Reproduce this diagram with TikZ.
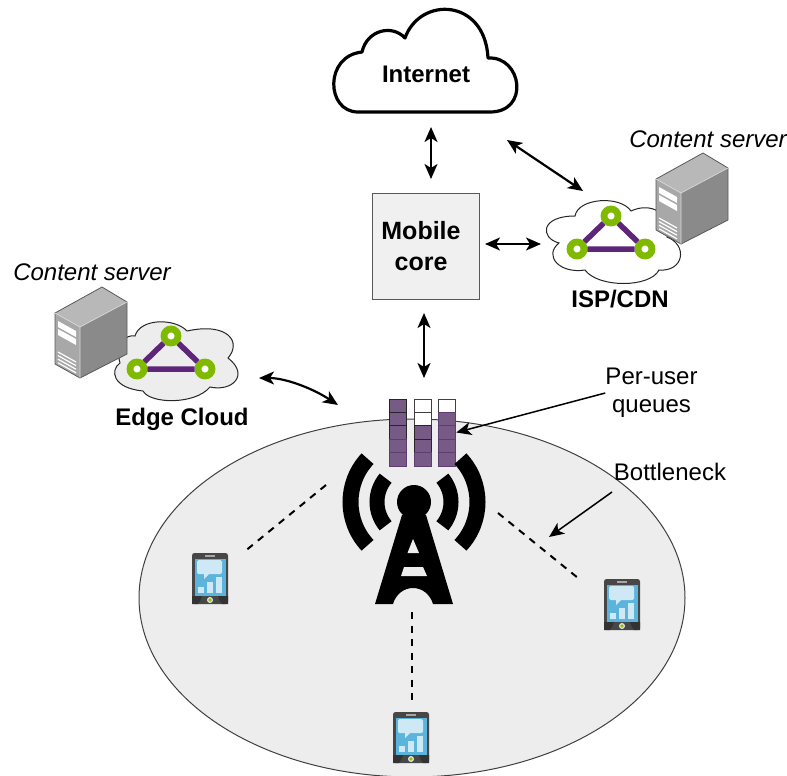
\documentclass[tikz,border=0pt]{standalone}
\usepackage{fontspec}
\setmainfont{Liberation Sans}
\usetikzlibrary{arrows.meta}
\definecolor{bgg}{HTML}{EDEDED}
\definecolor{ringg}{HTML}{7FBA00}
\definecolor{triv}{HTML}{5F2578}
\definecolor{qfill}{HTML}{775A85}
\definecolor{qedge}{HTML}{5C3F70}
\definecolor{scrblue}{HTML}{5AB4DC}
\definecolor{scrlight}{HTML}{CFE8F5}
\tikzset{
  x=1pt,y=-1pt,
  lab/.style={font=\fontsize{24}{28}\selectfont,align=center,inner sep=0pt},
  blab/.style={lab,font=\fontsize{24}{31}\selectfont\bfseries},
  ilab/.style={lab,font=\fontsize{24}{28}\selectfont\itshape},
  dbl/.style={line width=2.2pt,{Stealth[length=15pt,width=13pt,inset=4pt]}-{Stealth[length=15pt,width=13pt,inset=4pt]}},
  one/.style={line width=1.5pt,-{Stealth[length=15pt,width=13pt,inset=4pt]}},
  dsh/.style={line width=2pt,dash pattern=on 7pt off 6.5pt},
  ring/.style={circle,draw=ringg,line width=6.8pt,fill=white,minimum size=14pt,inner sep=0pt},
  qcell/.style={rectangle,minimum width=17.5pt,minimum height=13.4pt,inner sep=0pt,line width=1pt},
  qfull/.style={qcell,fill=qfill,draw=qedge},
  qtop/.style={qcell,fill=qfill,draw=black!85},
  qempty/.style={qcell,fill=white,draw=black!75},
  smallcl/.style={line width=1pt,draw=black!85},
  triad/.pic={
    \node[ring] (-a) at (577,249) {};
    \node[ring] (-b) at (611,216) {};
    \node[ring] (-c) at (645,249) {};
    \draw[triv,line width=5.5pt] (-a) -- (-b) (-b) -- (-c) (-c) -- (-a);
  },
  serverpic/.pic={
    \fill[white!72!black] (656,179) -- (703,153) -- (728,168) -- (681,193) -- cycle;
    \fill[white!54!black] (681,193) -- (728,168) -- (728,220) -- (681,244) -- cycle;
    \fill[white!66!black] (656,179) -- (681,193) -- (681,244) -- (656,230) -- cycle;
    \draw[black!65,line width=.8pt,line join=round] (656,179) -- (703,153) -- (728,168) -- (728,220) -- (681,244) -- (656,230) -- cycle;
    \draw[white!85!black,line width=.7pt] (656,179) -- (681,193) -- (728,168) (681,193) -- (681,244);
    \fill[white] (659,187) -- (677,197) -- (677,203) -- (659,193) -- cycle;
    \fill[white] (659,195) -- (677,205) -- (677,211) -- (659,201) -- cycle;
    \foreach \d in {0,3.6,7.2,10.8}{
      \draw[white,line width=1.2pt] (659,218+\d) -- (677,228+\d);
    }
  },
  phonepic/.pic={
    \fill[black!72,rounded corners=2.5pt] (393,712) rectangle (429,763);
    \fill[black!80] (393,755) -- (403,755) .. controls (402,758) and (401,761) .. (399,763) -- (393,763) -- cycle;
    \fill[black!80] (429,755) -- (419,755) .. controls (420,758) and (421,761) .. (423,763) -- (429,763) -- cycle;
    \fill[black!35] (406,714) rectangle (416,716);
    \fill[scrblue] (396,718) rectangle (427,755);
    \fill[scrlight,rounded corners=1.5pt] (398,719) rectangle (423,733);
    \fill[scrlight] (405,732) -- (405,738) -- (411,732) -- cycle;
    \fill[scrlight] (399,746) rectangle (405,752);
    \fill[scrlight] (408,741) rectangle (414,752);
    \fill[scrlight] (417,736) rectangle (423,752);
    \fill[white!90!black] (411,759) circle (3pt);
    \fill[ringg!85!yellow] (411,759) circle (1.8pt);
  },
}
\begin{document}
\begin{tikzpicture}
\useasboundingbox (0,0) rectangle (787,776);
% coverage ellipse
\begin{scope}
\clip (0,0) rectangle (787,776);
\draw[fill=bgg,draw=black!75,line width=1pt] (412,598) ellipse [x radius=273,y radius=179];
\end{scope}
% Internet cloud
\draw[fill=white,draw=black,line width=3.2pt,line join=round]
  (358,112) .. controls (326,112) and (324,56) .. (362,52)
  .. controls (367,30) and (392,24) .. (405,38)
  .. controls (420,-4) and (485,-2) .. (488,58)
  .. controls (522,56) and (530,112) .. (490,112) -- cycle;
\node[blab] (internet) at (426,74) {Internet};
% core
\node[rectangle,draw=black!65,fill=black!6,line width=1pt,minimum width=107pt,minimum height=106pt] (core) at (425.5,246) {};
\node[blab,font=\fontsize{25}{31}\selectfont\bfseries] (corelabel) at (421,246) {Mobile\\core};
% ISP group
\draw[smallcl,fill=white]
  (559,243) .. controls (540,238) and (540,216) .. (575,216)
  .. controls (578,198) and (620,195) .. (631,211)
  .. controls (650,202) and (672,212) .. (667,237)
  .. controls (688,245) and (684,272) .. (659,270)
  .. controls (650,288) and (598,288) .. (585,270)
  .. controls (560,274) and (543,256) .. (559,243) -- cycle;
\pic (isp) at (0,0) {triad};
\pic at (0,0) {serverpic};
\node[ilab] (cs1) at (708,139) {Content server};
\node[blab] (ispl) at (620,299) {ISP/CDN};
% Edge group
\draw[smallcl,fill=bgg]
  (120,363) .. controls (110,370) and (112,388) .. (143,391)
  .. controls (150,404) and (195,405) .. (210,387)
  .. controls (232,392) and (250,375) .. (228,358)
  .. controls (242,342) and (228,322) .. (187,331)
  .. controls (175,318) and (140,318) .. (135,336)
  .. controls (125,334) and (115,345) .. (120,363) -- cycle;
\pic (edge) at (-440,120) {triad};
\pic at (-601,134) {serverpic};
\node[ilab] (cs2) at (92,272) {Content server};
\node[blab] (edgel) at (182,419) {Edge Cloud};
% queues
\foreach \c/\x in {1/398,2/423,3/447}{
  \foreach \r in {1,...,5}{
    \pgfmathsetmacro{\yy}{399+13.4*(\r-.5)}
    \ifnum\c=1 \ifnum\r<4 \def\st{qtop}\else\def\st{qfull}\fi\fi
    \ifnum\c=2 \ifnum\r<3 \def\st{qempty}\else\ifnum\r<5 \def\st{qtop}\else\def\st{qfull}\fi\fi\fi
    \ifnum\c=3 \ifnum\r<2 \def\st{qempty}\else\def\st{qfull}\fi\fi
    \node[\st] (q\c\r) at (\x,\yy) {};
  }
}
% tower
\fill[black] (414,502) circle (17);
\draw[black,line width=16pt] (414,502) ++(137:63.5) arc [start angle=137,end angle=223,radius=63.5];
\draw[black,line width=16pt] (414,502) ++(43:63.5) arc [start angle=43,end angle=-43,radius=63.5];
\draw[black,line width=15pt] (414,502) ++(140:37) arc [start angle=140,end angle=220,radius=37];
\draw[black,line width=15pt] (414,502) ++(40:37) arc [start angle=40,end angle=-40,radius=37];
\fill[black] (402,515) -- (375,604) -- (393,604) .. controls (396,594) and (404,588) .. (413,588)
  .. controls (422,588) and (430,594) .. (433,604) -- (453,604) -- (426,515) -- cycle;
\fill[bgg] (413,539) -- (407.5,553) -- (419,553) -- cycle;
\fill[bgg] (404,567) -- (423,567) -- (427,576) -- (401,576) -- cycle;
% phones
\pic at (-201,-159) {phonepic};
\pic at (211,-133) {phonepic};
\pic at (0,0) {phonepic};
% labels
\node[lab] (puq) at (651.5,393) {Per-user\\queues};
\node[lab] (bott) at (670,472) {Bottleneck};
% connector ends
\coordinate (inetS) at (431,127);
\coordinate (coreN) at (431,179);
\coordinate (inetE) at (507,140);
\coordinate (ispN) at (583,191);
\coordinate (coreE) at (485,244);
\coordinate (ispW) at (541,244);
\coordinate (coreS) at (424,313);
\coordinate (towerN) at (424,378);
\coordinate (edgeE) at (259,378);
\coordinate (towerW) at (338,405);
\coordinate (bottS) at (612,492);
\coordinate (linkR) at (549,537);
\coordinate (bsL) at (326,485);
\coordinate (phL) at (244,552);
\coordinate (bsR) at (498,513);
\coordinate (phR) at (578,578);
\coordinate (bsB) at (412,612);
\coordinate (phB) at (412,700);
% connectors
\draw[dbl] (inetS) -- (coreN);
\draw[dbl] (inetE) -- (ispN);
\draw[dbl] (coreE) -- (ispW);
\draw[dbl] (coreS) -- (towerN);
\draw[dbl] (edgeE) .. controls (285,378) and (312,388) .. (towerW);
\draw[one] (puq.west) -- (q33.east);
\draw[one] (bottS) -- (linkR);
\draw[dsh] (bsL) -- (phL);
\draw[dsh] (bsR) -- (phR);
\draw[dsh] (bsB) -- (phB);
\end{tikzpicture}
\end{document}
